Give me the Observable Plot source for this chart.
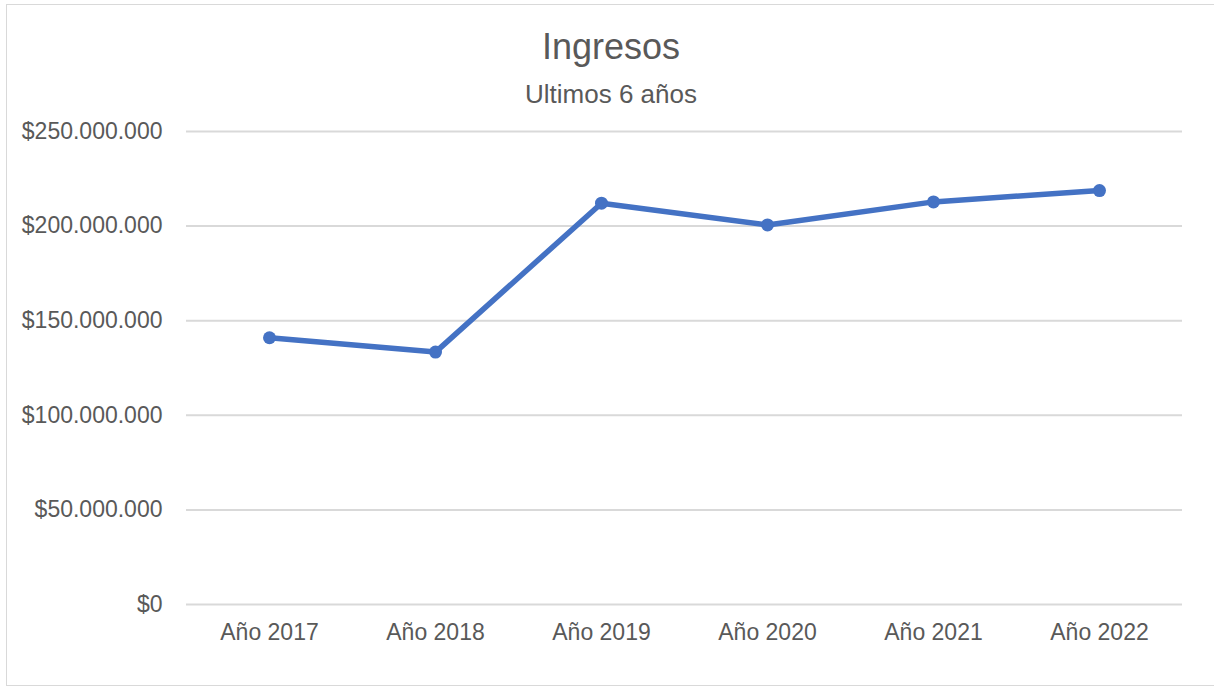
<!DOCTYPE html>
<html>
<head>
<meta charset="utf-8">
<script src="https://cdn.jsdelivr.net/npm/d3@7"></script>
<script src="https://cdn.jsdelivr.net/npm/@observablehq/plot@0.6"></script>
<style>
  html, body { margin: 0; padding: 0; background: #fff; }
  body { width: 1214px; height: 687px; position: relative; overflow: hidden; font-family: "Liberation Sans", Arial, sans-serif; }
  #frame { position: absolute; left: 6px; top: 4px; width: 1220px; height: 682px; border: 1px solid #d9d9d9; box-sizing: border-box; }
  .title { position: absolute; left: 6px; width: 1210px; text-align: center; color: #595959; line-height: 1; white-space: nowrap; }
  #t1 { top: 29px; font-size: 36px; }
  #t2 { top: 81px; font-size: 26px; }
  #chart { position: absolute; left: 0; top: 100px; }
</style>
</head>
<body>
<div id="frame"></div>
<div class="title" id="t1">Ingresos</div>
<div class="title" id="t2">Ultimos 6 años</div>
<div id="chart"></div>
<script>
const years = ["Año 2017", "Año 2018", "Año 2019", "Año 2020", "Año 2021", "Año 2022"];
const ingresos = [141000000, 133400000, 212100000, 200600000, 212800000, 218800000];
const yTicks = [0, 50000000, 100000000, 150000000, 200000000, 250000000];

const data = years.map((y, i) => ({year: y, value: ingresos[i]}));
const locale = d3.formatLocale({decimal: ",", thousands: ".", grouping: [3], currency: ["$", ""]});
const fmt = locale.format("$,.0f");

const chart = Plot.plot({
  width: 1214,
  height: 587,
  marginTop: 31,
  marginBottom: 83,
  marginLeft: 186,
  marginRight: 32,
  style: {fontFamily: "Liberation Sans, Arial, sans-serif", color: "#595959", background: "transparent"},
  x: {type: "point", domain: years, padding: 0.5, label: null},
  y: {domain: [0, 250000000], label: null},
  marks: [
    Plot.ruleY(yTicks, {stroke: "#d9d9d9", strokeWidth: 2}),
    Plot.axisY({ticks: yTicks, tickFormat: fmt, tickSize: 0, tickPadding: 24, fontSize: 23, fill: "#595959", label: null}),
    Plot.axisX({tickSize: 0, tickPadding: 19, fontSize: 23, fill: "#595959", label: null}),
    Plot.line(data, {x: "year", y: "value", stroke: "#4472C4", strokeWidth: 5.5, strokeLinejoin: "round", strokeLinecap: "round"}),
    Plot.dot(data, {x: "year", y: "value", r: 6.5, fill: "#4472C4", stroke: "none"})
  ]
});
document.getElementById("chart").appendChild(chart);
</script>
</body>
</html>
